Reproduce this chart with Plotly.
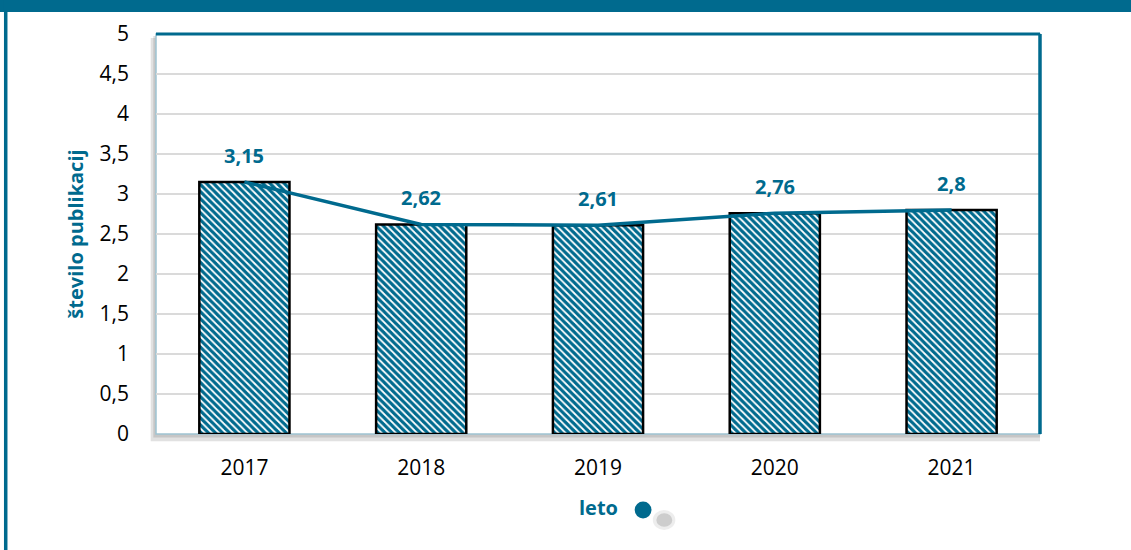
import plotly.graph_objects as go

# data
leta = ["2017", "2018", "2019", "2020", "2021"]
publikacije = [3.15, 2.62, 2.61, 2.76, 2.8]
oznake = ["3,15", "2,62", "2,61", "2,76", "2,8"]

teal = "#006A8E"
font = "Open Sans"

fig = go.Figure()
fig.add_bar(
    x=leta, y=publikacije,
    marker=dict(
        color="white",
        line=dict(color="black", width=2.5),
        pattern=dict(shape="\\", fgcolor=teal, bgcolor="white", fgopacity=1,
                     size=5, solidity=0.65),
    ),
    width=0.51,
    hoverinfo="skip",
)
fig.add_scatter(
    x=leta, y=publikacije, mode="lines",
    line=dict(color=teal, width=3.5),
    hoverinfo="skip",
)

# value labels above the bars (category index on the category axis)
for i, (y, t) in enumerate(zip(publikacije, oznake)):
    fig.add_annotation(x=i, y=y, text="<b>%s</b>" % t, showarrow=False,
                       yshift=27, font=dict(family=font, size=20, color=teal))

shapes = [
    # outer frame: top bar
    dict(type="rect", xref="paper", yref="paper", x0=-0.2, x1=1.2, y0=1.055, y1=1.2,
         fillcolor=teal, line_width=0, layer="below"),
    # shadow of plot area
    dict(type="rect", xref="paper", yref="paper", x0=-0.006, x1=1.0, y0=-0.018, y1=0.99,
         fillcolor="rgba(120,120,120,0.22)", line_width=0, layer="below"),
    dict(type="rect", xref="paper", yref="paper", x0=-0.003, x1=1.0, y0=-0.009, y1=0.995,
         fillcolor="rgba(120,120,120,0.25)", line_width=0, layer="below"),
    dict(type="rect", xref="paper", yref="paper", x0=0, x1=1, y0=0, y1=1,
         fillcolor="white", line=dict(color="#9FC3D2", width=1.5), layer="below"),
    # top and right frame
    dict(type="line", xref="paper", yref="paper", x0=0, x1=1, y0=1, y1=1,
         line=dict(color=teal, width=3)),
    dict(type="line", xref="paper", yref="paper", x0=1, x1=1, y0=0, y1=1,
         line=dict(color=teal, width=3.5)),
    # left frame edge of the page
    dict(type="line", xref="paper", yref="paper", x0=-0.17, x1=-0.17, y0=-0.3, y1=1.1,
         line=dict(color=teal, width=3.5)),
    # soft shadow and dot beside the x title
    dict(type="circle", xref="paper", yref="paper", x0=0.562, x1=0.5875,
         y0=-0.24, y1=-0.19, fillcolor="rgba(110,110,110,0.12)", line_width=0),
    dict(type="circle", xref="paper", yref="paper", x0=0.566, x1=0.584,
         y0=-0.232, y1=-0.198, fillcolor="rgba(110,110,110,0.25)", line_width=0),
    dict(type="circle", xref="paper", yref="paper", x0=0.5415, x1=0.5605,
         y0=-0.211, y1=-0.169, fillcolor=teal, line_width=0),
]
fig.update_layout(shapes=shapes)

# x title
fig.add_annotation(xref="paper", yref="paper", x=0.5, y=-0.183, yanchor="middle",
                   text="<b>leto</b>", showarrow=False,
                   font=dict(family=font, size=20, color=teal))

fig.update_layout(
    width=1131, height=550,
    margin=dict(l=156, r=91, t=34, b=116),
    paper_bgcolor="white", plot_bgcolor="white",
    separators=",.",
    showlegend=False,
    font=dict(family=font, size=21, color="black"),
    xaxis=dict(type="category", showgrid=False, showline=False, ticks="",
               ticklabelstandoff=19, tickfont=dict(size=21)),
    yaxis=dict(range=[0, 5], dtick=0.5, showgrid=True, gridcolor="#DADADA", gridwidth=1.5,
               zeroline=False, showline=False, ticklabelstandoff=26,
               tickfont=dict(size=21),
               title=dict(text="<b>število publikacij</b>", standoff=10,
                          font=dict(size=20, color=teal))),
)

fig.write_html("out.html", post_script="document.body.style.margin='0';",
               config={"displayModeBar": False})
